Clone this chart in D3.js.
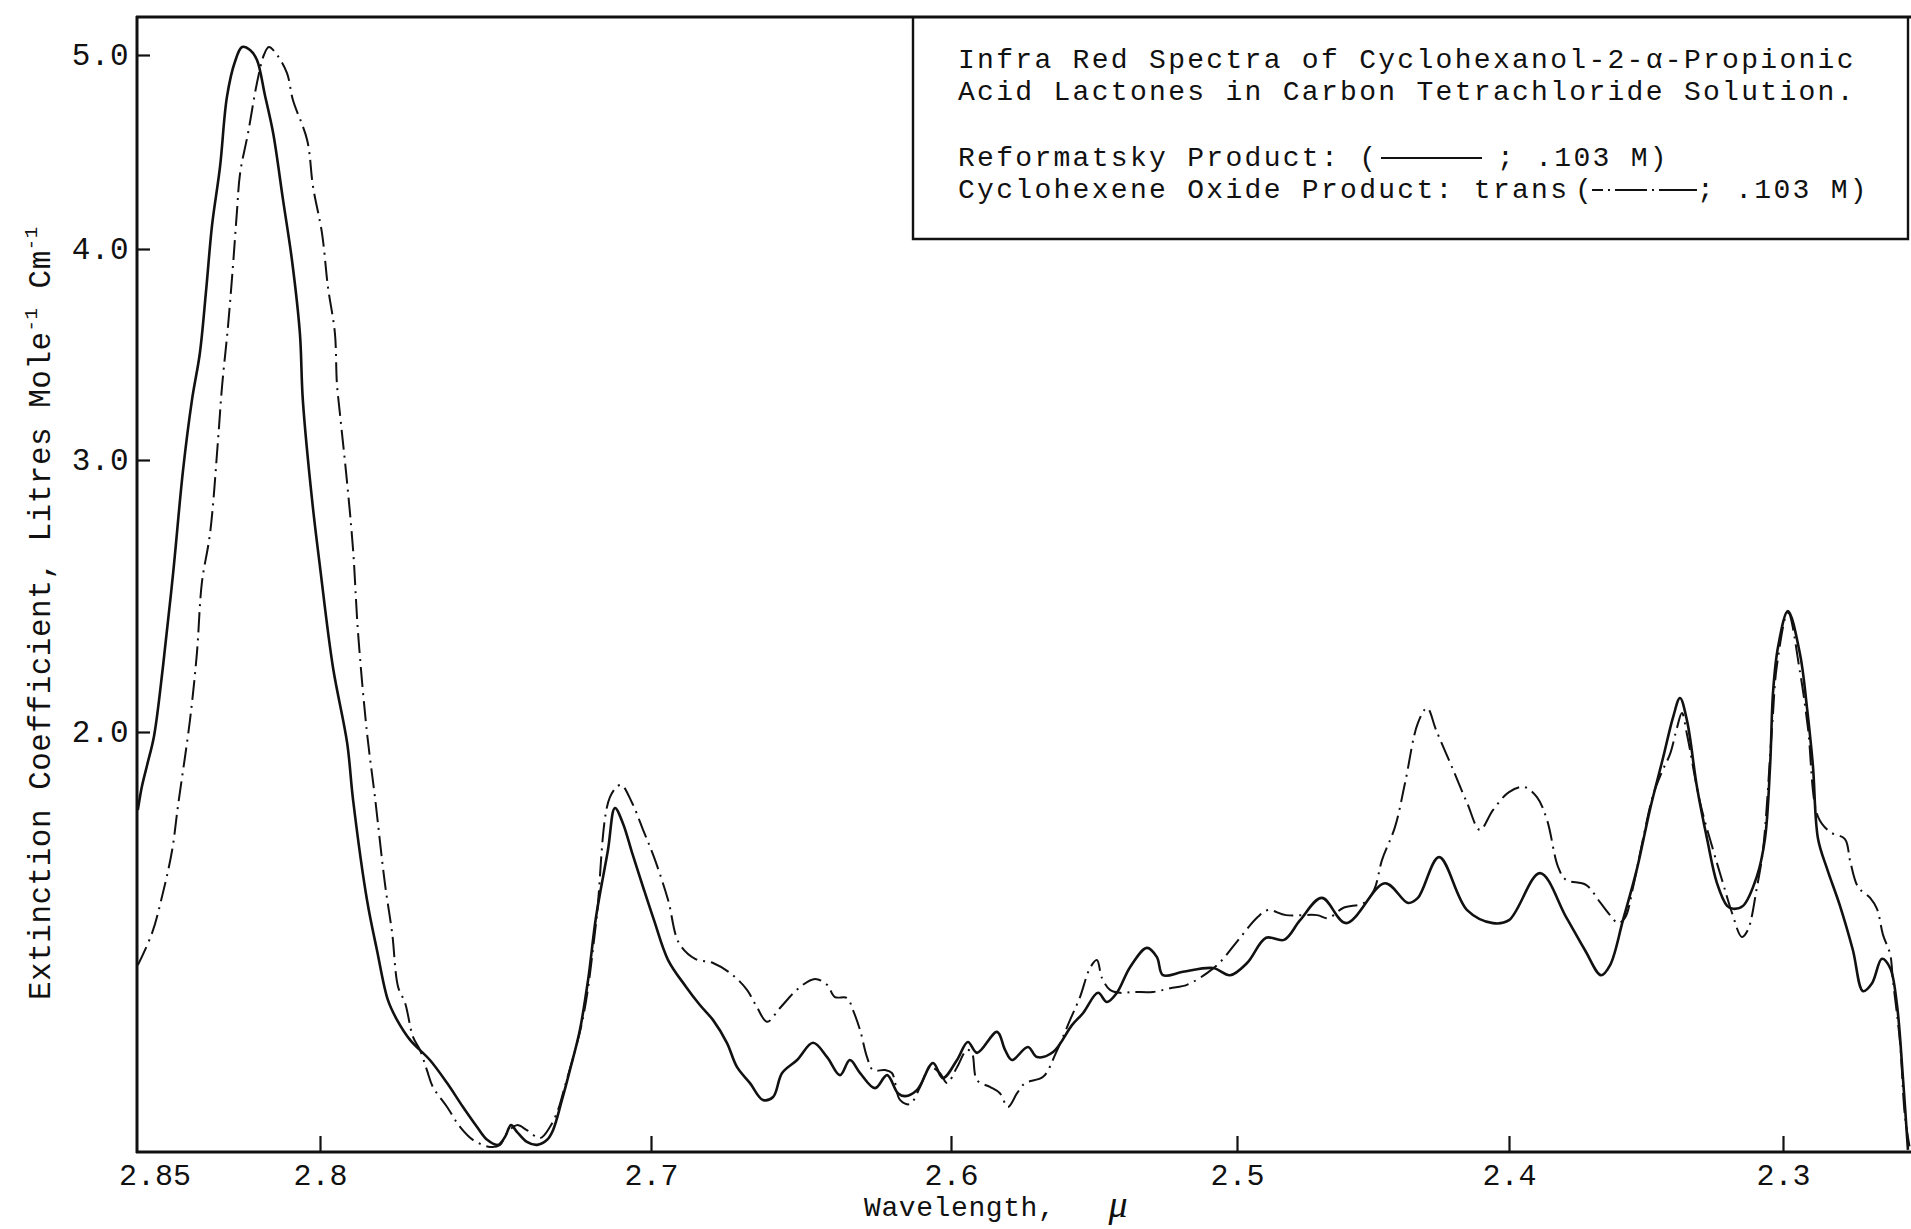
<!DOCTYPE html>
<html><head><meta charset="utf-8">
<script src="https://cdn.jsdelivr.net/npm/d3@7"></script>
<style>
body{margin:0;background:#fff}
svg{display:block}
text{font-family:"Liberation Mono","DejaVu Sans Mono",monospace;fill:#111}
</style>
</head><body>
<svg id="chart" width="1911" height="1229"></svg>
<script>
// ---- data ----
const xTicks = [2.8, 2.7, 2.6, 2.5, 2.4, 2.3];
const xTickLabels = ["2.8", "2.7", "2.6", "2.5", "2.4", "2.3"];
const xCornerValue = 2.85;
const xCornerLabel = "2.85";
const yTicks = [2, 3, 4, 5];
const yTickLabels = ["2.0", "3.0", "4.0", "5.0"];

const titleLines = ["Infra Red Spectra of Cyclohexanol-2-\u03b1-Propionic",
                    "Acid Lactones in Carbon Tetrachloride Solution."];
const seriesNames = ["Reformatsky Product:", "Cyclohexene Oxide Product: trans"];
const concentrations = ["; .103 M)", "; .103 M)"];

const reformatskyWavelength = [2.8552,2.8540,2.8524,2.8503,2.8476,2.8445,2.8415,2.8388,2.8364,2.8345,
2.8327,2.8303,2.8282,2.8258,2.8236,2.8212,2.8191,2.8167,2.8142,2.8112,
2.8085,2.8061,2.8052,2.8024,2.8000,2.7961,2.7918,2.7900,2.7858,2.7828,
2.7795,2.7767,2.7728,2.7668,2.7616,2.7568,2.7526,2.7495,2.7462,2.7441,
2.7423,2.7405,2.7375,2.7344,2.7314,2.7296,2.7269,2.7245,2.7215,2.7190,
2.7166,2.7130,2.7109,2.7085,2.7057,2.7024,2.6990,2.6943,2.6883,2.6837,
2.6793,2.6747,2.6713,2.6670,2.6627,2.6593,2.6563,2.6513,2.6460,2.6413,
2.6370,2.6337,2.6303,2.6253,2.6213,2.6177,2.6153,2.6113,2.6060,2.6027,
2.5979,2.5941,2.5909,2.5839,2.5811,2.5787,2.5731,2.5699,2.5643,2.5577,
2.5538,2.5486,2.5455,2.5420,2.5374,2.5315,2.5280,2.5259,2.5189,2.5084,
2.5024,2.4963,2.4893,2.4827,2.4768,2.4688,2.4599,2.4456,2.4371,2.4335,
2.4257,2.4154,2.4059,2.4000,2.3887,2.3792,2.3723,2.3664,2.3631,2.3584,
2.3533,2.3485,2.3438,2.3401,2.3376,2.3350,2.3314,2.3277,2.3241,2.3204,
2.3182,2.3146,2.3095,2.3066,2.3047,2.3036,2.3018,2.2982,2.2938,2.2912,
2.2891,2.2872,2.2839,2.2792,2.2745,2.2708,2.2675,2.2639,2.2609,2.2584,
2.2562,2.2544];
const reformatskyExtinction = [1.814,1.869,1.921,1.990,2.239,2.585,2.963,3.284,3.507,3.806,
4.124,4.423,4.784,4.964,5.041,5.026,4.974,4.794,4.598,4.253,
3.948,3.602,3.284,2.853,2.607,2.239,1.974,1.838,1.600,1.481,
1.362,1.314,1.267,1.219,1.164,1.107,1.060,1.029,1.017,1.036,
1.064,1.048,1.024,1.017,1.029,1.052,1.124,1.195,1.290,1.410,
1.560,1.719,1.819,1.783,1.712,1.631,1.552,1.457,1.393,1.350,
1.314,1.260,1.202,1.164,1.124,1.131,1.188,1.219,1.260,1.226,
1.183,1.219,1.188,1.152,1.183,1.140,1.133,1.148,1.212,1.176,
1.219,1.262,1.236,1.286,1.243,1.219,1.250,1.226,1.238,1.302,
1.331,1.379,1.357,1.379,1.440,1.486,1.464,1.421,1.429,1.438,
1.421,1.450,1.510,1.505,1.552,1.605,1.545,1.640,1.593,1.605,
1.702,1.576,1.545,1.552,1.664,1.560,1.481,1.421,1.445,1.552,
1.674,1.817,1.938,2.055,2.125,2.040,1.869,1.745,1.640,1.586,
1.579,1.586,1.657,1.745,1.921,2.151,2.313,2.445,2.287,2.085,
1.921,1.745,1.674,1.586,1.481,1.383,1.402,1.460,1.438,1.350,
1.174,1.005];

const oxideWavelength = [2.8552,2.8509,2.8476,2.8448,2.8430,2.8394,2.8373,2.8358,2.8333,2.8309,
2.8297,2.8279,2.8264,2.8252,2.8242,2.8218,2.8191,2.8170,2.8155,2.8130,
2.8100,2.8082,2.8039,2.8021,2.7994,2.7976,2.7955,2.7949,2.7940,2.7918,
2.7900,2.7885,2.7858,2.7834,2.7804,2.7782,2.7764,2.7743,2.7719,2.7698,
2.7677,2.7659,2.7616,2.7577,2.7538,2.7486,2.7456,2.7435,2.7405,2.7375,
2.7335,2.7305,2.7281,2.7266,2.7205,2.7166,2.7124,2.7091,2.7057,2.7024,
2.6990,2.6943,2.6907,2.6853,2.6793,2.6727,2.6680,2.6647,2.6613,2.6570,
2.6503,2.6453,2.6413,2.6387,2.6347,2.6327,2.6303,2.6280,2.6260,2.6220,
2.6197,2.6170,2.6137,2.6103,2.6070,2.6037,2.6013,2.5979,2.5944,2.5927,
2.5909,2.5864,2.5829,2.5801,2.5769,2.5741,2.5678,2.5633,2.5584,2.5549,
2.5514,2.5490,2.5472,2.5444,2.5409,2.5364,2.5294,2.5234,2.5175,2.5105,
2.5059,2.4989,2.4923,2.4886,2.4820,2.4706,2.4665,2.4610,2.4533,2.4496,
2.4467,2.4419,2.4382,2.4335,2.4301,2.4268,2.4210,2.4154,2.4107,2.4059,
2.4000,2.3945,2.3898,2.3861,2.3821,2.3792,2.3719,2.3668,2.3631,2.3602,
2.3577,2.3547,2.3511,2.3474,2.3442,2.3412,2.3387,2.3369,2.3350,2.3303,
2.3255,2.3219,2.3186,2.3150,2.3128,2.3095,2.3073,2.3040,2.3022,2.2982,
2.2938,2.2909,2.2872,2.2828,2.2774,2.2755,2.2726,2.2682,2.2657,2.2635,
2.2609,2.2599,2.2573,2.2555,2.2536];
const oxideExtinction = [1.445,1.521,1.617,1.719,1.826,2.044,2.290,2.548,2.732,3.095,
3.346,3.630,3.915,4.186,4.392,4.598,4.856,5.000,5.041,5.000,
4.907,4.768,4.562,4.320,4.082,3.820,3.602,3.365,3.223,2.915,
2.669,2.364,1.998,1.845,1.640,1.521,1.393,1.355,1.274,1.243,
1.195,1.155,1.107,1.060,1.029,1.012,1.017,1.045,1.064,1.052,
1.033,1.060,1.100,1.140,1.321,1.545,1.845,1.874,1.831,1.767,
1.702,1.600,1.498,1.460,1.450,1.421,1.386,1.345,1.310,1.343,
1.393,1.412,1.398,1.369,1.367,1.338,1.290,1.226,1.195,1.195,
1.188,1.124,1.114,1.155,1.202,1.188,1.164,1.202,1.243,1.236,
1.171,1.155,1.140,1.107,1.140,1.164,1.179,1.236,1.314,1.369,
1.438,1.457,1.414,1.386,1.379,1.381,1.381,1.390,1.398,1.426,
1.452,1.510,1.560,1.576,1.564,1.564,1.557,1.581,1.593,1.624,
1.695,1.774,1.879,2.033,2.088,2.007,1.917,1.831,1.767,1.814,
1.857,1.869,1.845,1.790,1.679,1.648,1.636,1.595,1.564,1.545,
1.557,1.631,1.745,1.850,1.905,1.948,2.015,2.070,1.993,1.833,
1.719,1.640,1.569,1.512,1.529,1.631,1.719,2.015,2.246,2.438,
2.221,2.015,1.798,1.762,1.745,1.693,1.631,1.605,1.579,1.517,
1.471,1.410,1.262,1.086,1.005];

// ---- layout ----
const svg = d3.select("#chart");
const W = 1911, H = 1229;
const frameLeft = 137, frameTop = 17, frameBottom = 1152, frameRight = W;
const ink = "#111";
const LEGEND_FONT = 28, LEGEND_LS = "2.3px";

// instrument scales are not uniform: piecewise linear calibration
const x = d3.scaleLinear()
  .domain([2.85, 2.8, 2.7, 2.6, 2.5, 2.4, 2.3])
  .range([155, 320, 651, 951, 1237, 1509, 1783]);
const y = d3.scaleLinear()
  .domain([1, 2, 3, 4, 5])
  .range([frameBottom, 732, 460, 249, 55]);

// ---- axes (ticks inside) ----
const gx = svg.append("g")
  .attr("transform", `translate(0,${frameBottom})`)
  .call(d3.axisBottom(x).tickValues(xTicks).tickSize(-16).tickPadding(12)
        .tickFormat((d, i) => xTickLabels[i]));
gx.select(".domain").remove();
gx.attr("font-family", null).attr("font-size", null);
gx.selectAll(".tick line").attr("stroke", ink).attr("stroke-width", 2.2);
gx.selectAll(".tick text").attr("fill", ink).style("font-size", "30px");

svg.append("text").attr("x", x(xCornerValue)).attr("y", frameBottom + 33)
  .attr("text-anchor", "middle").style("font-size", "30px").text(xCornerLabel);

const gy = svg.append("g")
  .attr("transform", `translate(${frameLeft},0)`)
  .call(d3.axisLeft(y).tickValues(yTicks).tickSize(-13).tickPadding(8)
        .tickFormat((d, i) => yTickLabels[i]));
gy.select(".domain").remove();
gy.attr("font-family", null).attr("font-size", null);
gy.selectAll(".tick line").attr("stroke", ink).attr("stroke-width", 2.2);
gy.selectAll(".tick text").attr("fill", ink).style("font-size", "31px")
  .style("letter-spacing", "0.5px");

// ---- frame ----
const frame = svg.append("g").attr("stroke", ink).attr("stroke-width", 3).attr("fill", "none");
frame.append("line").attr("x1", frameLeft - 1).attr("x2", frameRight).attr("y1", frameTop).attr("y2", frameTop);
frame.append("line").attr("x1", frameLeft).attr("x2", frameLeft).attr("y1", frameTop - 1).attr("y2", frameBottom + 1);
frame.append("line").attr("x1", frameLeft - 1).attr("x2", frameRight).attr("y1", frameBottom).attr("y2", frameBottom);

// ---- curves ----
const line = d3.line().x(d => x(d[0])).y(d => y(d[1])).curve(d3.curveCatmullRom.alpha(0.5));
const reformatsky = reformatskyWavelength.map((w, i) => [w, reformatskyExtinction[i]]);
const oxide = oxideWavelength.map((w, i) => [w, oxideExtinction[i]]);

svg.append("path").datum(oxide).attr("d", line)
  .attr("fill", "none").attr("stroke", ink).attr("stroke-width", 2)
  .attr("stroke-dasharray", "20,6,2,6").attr("stroke-linecap", "butt");
svg.append("path").datum(reformatsky).attr("d", line)
  .attr("fill", "none").attr("stroke", ink).attr("stroke-width", 2.6)
  .attr("stroke-linejoin", "round");

// ---- legend box ----
const box = {left: 913, right: 1908, bottom: 239};
const lg = svg.append("g");
lg.append("path")
  .attr("d", `M${box.left},${frameTop} V${box.bottom} H${box.right} V${frameTop}`)
  .attr("fill", "none").attr("stroke", ink).attr("stroke-width", 2.4);

const tx = 958;
const baselines = [68, 100, 166, 198];
function legendText(t, xx, yy) {
  return lg.append("text").attr("x", xx).attr("y", yy)
    .style("font-size", LEGEND_FONT + "px").style("letter-spacing", LEGEND_LS).text(t);
}
titleLines.forEach((t, i) => legendText(t, tx, baselines[i]));
// series 1
legendText(seriesNames[0] + " (", tx, baselines[2]);
lg.append("line").attr("x1", 1381).attr("x2", 1482).attr("y1", baselines[2] - 8).attr("y2", baselines[2] - 8)
  .attr("stroke", ink).attr("stroke-width", 2.2);
legendText(concentrations[0], 1497, baselines[2]);
// series 2
legendText(seriesNames[1], tx, baselines[3]);
legendText("(", 1575, baselines[3]);
lg.append("line").attr("x1", 1592).attr("x2", 1697).attr("y1", baselines[3] - 8).attr("y2", baselines[3] - 8)
  .attr("stroke", ink).attr("stroke-width", 2)
  .attr("stroke-dasharray", "11,5,2,5,32,5,2,5,40");
legendText(concentrations[1], 1697, baselines[3]);

// ---- axis titles ----
const yTitle = svg.append("text")
  .attr("transform", "translate(50,1000) rotate(-90)")
  .style("font-size", "31px").style("letter-spacing", "0.5px");
yTitle.append("tspan").text("Extinction Coefficient, Litres Mole");
yTitle.append("tspan").attr("dy", -13).style("font-size", "19px").text("-1");
yTitle.append("tspan").attr("dy", 13).text(" Cm");
yTitle.append("tspan").attr("dy", -13).style("font-size", "19px").text("-1");

svg.append("text").attr("x", 864).attr("y", 1216)
  .style("font-size", "28px").style("letter-spacing", "0.6px").text("Wavelength,");
svg.append("text").attr("x", 1118).attr("y", 1217).attr("text-anchor", "middle")
  .style("font-family", "'Liberation Serif','DejaVu Serif',serif")
  .style("font-style", "italic").style("font-size", "38px").text("\u03bc");
</script>
</body></html>
